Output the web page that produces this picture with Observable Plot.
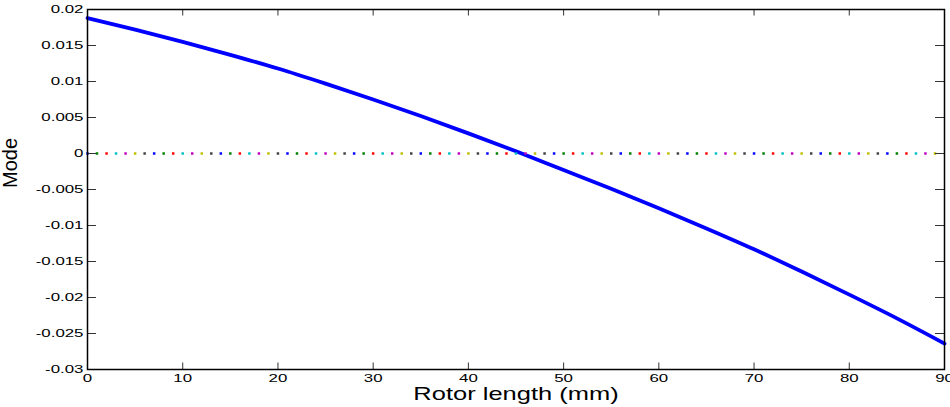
<!DOCTYPE html>
<html>
<head>
<meta charset="utf-8">
<script src="https://cdn.jsdelivr.net/npm/d3@7"></script>
<script src="https://cdn.jsdelivr.net/npm/@observablehq/plot@0.6"></script>
<style>
  html, body { margin: 0; padding: 0; background: white; }
</style>
</head>
<body>
<div id="chart"></div>
<script>
// Blue mode-shape curve (Rotor length in mm, Mode value)
const curveX = [0, 5, 10, 15, 20, 25, 30, 35, 40, 45, 50, 55, 60, 65, 70, 75, 80, 85, 90];
const curveY = [0.0188, 0.0172, 0.0155, 0.0137, 0.0118, 0.0097, 0.0075, 0.0052, 0.0028, 0.0003,
                -0.0023, -0.0049, -0.0076, -0.0104, -0.0133, -0.0164, -0.0196, -0.0229, -0.0264];

// Undeformed nodes along the rotor (all at 0)
const nodeX = [0, 1, 2, 3, 4, 5, 6, 7, 8, 9, 10, 11, 12, 13, 14, 15, 16, 17, 18, 19,
               20, 21, 22, 23, 24, 25, 26, 27, 28, 29, 30, 31, 32, 33, 34, 35, 36, 37, 38, 39,
               40, 41, 42, 43, 44, 45, 46, 47, 48, 49, 50, 51, 52, 53, 54, 55, 56, 57, 58, 59,
               60, 61, 62, 63, 64, 65, 66, 67, 68, 69, 70, 71, 72, 73, 74, 75, 76, 77, 78, 79,
               80, 81, 82, 83, 84, 85, 86, 87, 88, 89];
const nodeY = nodeX.map(() => 0);
const nodePalette = ["#0000ff", "#008000", "#ff0000", "#00bfbf", "#bf00bf", "#bfbf00", "#404040"];

// Ticks and labels
const xTicks = [0, 10, 20, 30, 40, 50, 60, 70, 80, 90];
const xTickLabels = ["0", "10", "20", "30", "40", "50", "60", "70", "80", "90"];
const yTicks = [0.02, 0.015, 0.01, 0.005, 0, -0.005, -0.01, -0.015, -0.02, -0.025, -0.03];
const yTickLabels = ["0.02", "0.015", "0.01", "0.005", "0", "-0.005", "-0.01", "-0.015", "-0.02", "-0.025", "-0.03"];
const xLabel = "Rotor length (mm)";
const yLabel = "Mode";

const curve = curveX.map((x, i) => ({x, y: curveY[i]}));
const nodes = nodeX.map((x, i) => ({x, y: nodeY[i], color: nodePalette[i % nodePalette.length]}));

const W = 950, H = 407;
const mL = 87, mR = 6, mT = 9, mB = 38;
const fw = W - mL - mR, fh = H - mT - mB;
const yTickLen = 9, xTickLen = 6.5;
const font = "'Liberation Sans', Arial, Helvetica, sans-serif";

const chart = Plot.plot({
  width: W,
  height: H,
  marginLeft: mL,
  marginRight: mR,
  marginTop: mT,
  marginBottom: mB,
  x: {domain: [0, 90], axis: null},
  y: {domain: [-0.03, 0.02], axis: null},
  color: {type: "identity"},
  style: {fontFamily: font, background: "white", overflow: "visible"},
  marks: [
    Plot.lineY(curve, {x: "x", y: "y", stroke: "#0000ff", strokeWidth: 3.8, strokeLinejoin: "round", curve: "monotone-x"}),
    Plot.dot(nodes, {x: "x", y: "y", fill: "color", symbol: "square", r: 1.4}),
    Plot.tickY(yTicks, {y: d => d, stroke: "#333", strokeWidth: 1, insetRight: fw - yTickLen}),
    Plot.tickY(yTicks, {y: d => d, stroke: "#333", strokeWidth: 1, insetLeft: fw - yTickLen}),
    Plot.tickX(xTicks, {x: d => d, stroke: "#333", strokeWidth: 1, insetTop: fh - xTickLen}),
    Plot.tickX(xTicks, {x: d => d, stroke: "#333", strokeWidth: 1, insetBottom: fh - xTickLen}),
    Plot.frame({stroke: "black", strokeWidth: 1.5}),
    Plot.text(yTicks, {y: d => d, text: (d, i) => yTickLabels[i], frameAnchor: "left", textAnchor: "end",
                       lineAnchor: "middle", dx: -4, fontSize: 11.7, fill: "black"}),
    Plot.text(xTicks, {x: d => d, text: (d, i) => xTickLabels[i], frameAnchor: "bottom",
                       lineAnchor: "top", dy: 4.3, fontSize: 11.7, fill: "black"}),
    Plot.text([xLabel], {text: d => d, frameAnchor: "bottom", lineAnchor: "bottom", dy: 30.3,
                         fontSize: 17.7, fill: "black"}),
    Plot.text([yLabel], {text: d => d, frameAnchor: "left", rotate: -90, lineAnchor: "middle",
                         dx: -77, dy: -1.5, fontSize: 20, fill: "black"})
  ]
});

// Horizontal stretch of the horizontal texts, as in the reference rendering
d3.select(chart).selectAll("g[aria-label='text'] text").each(function () {
  const t = this.getAttribute("transform") || "";
  if (!t.includes("rotate")) {
    const sx = 1.44;
    this.setAttribute("transform", t + ` scale(${sx},1)`);
  }
});

document.getElementById("chart").appendChild(chart);
</script>
</body>
</html>
